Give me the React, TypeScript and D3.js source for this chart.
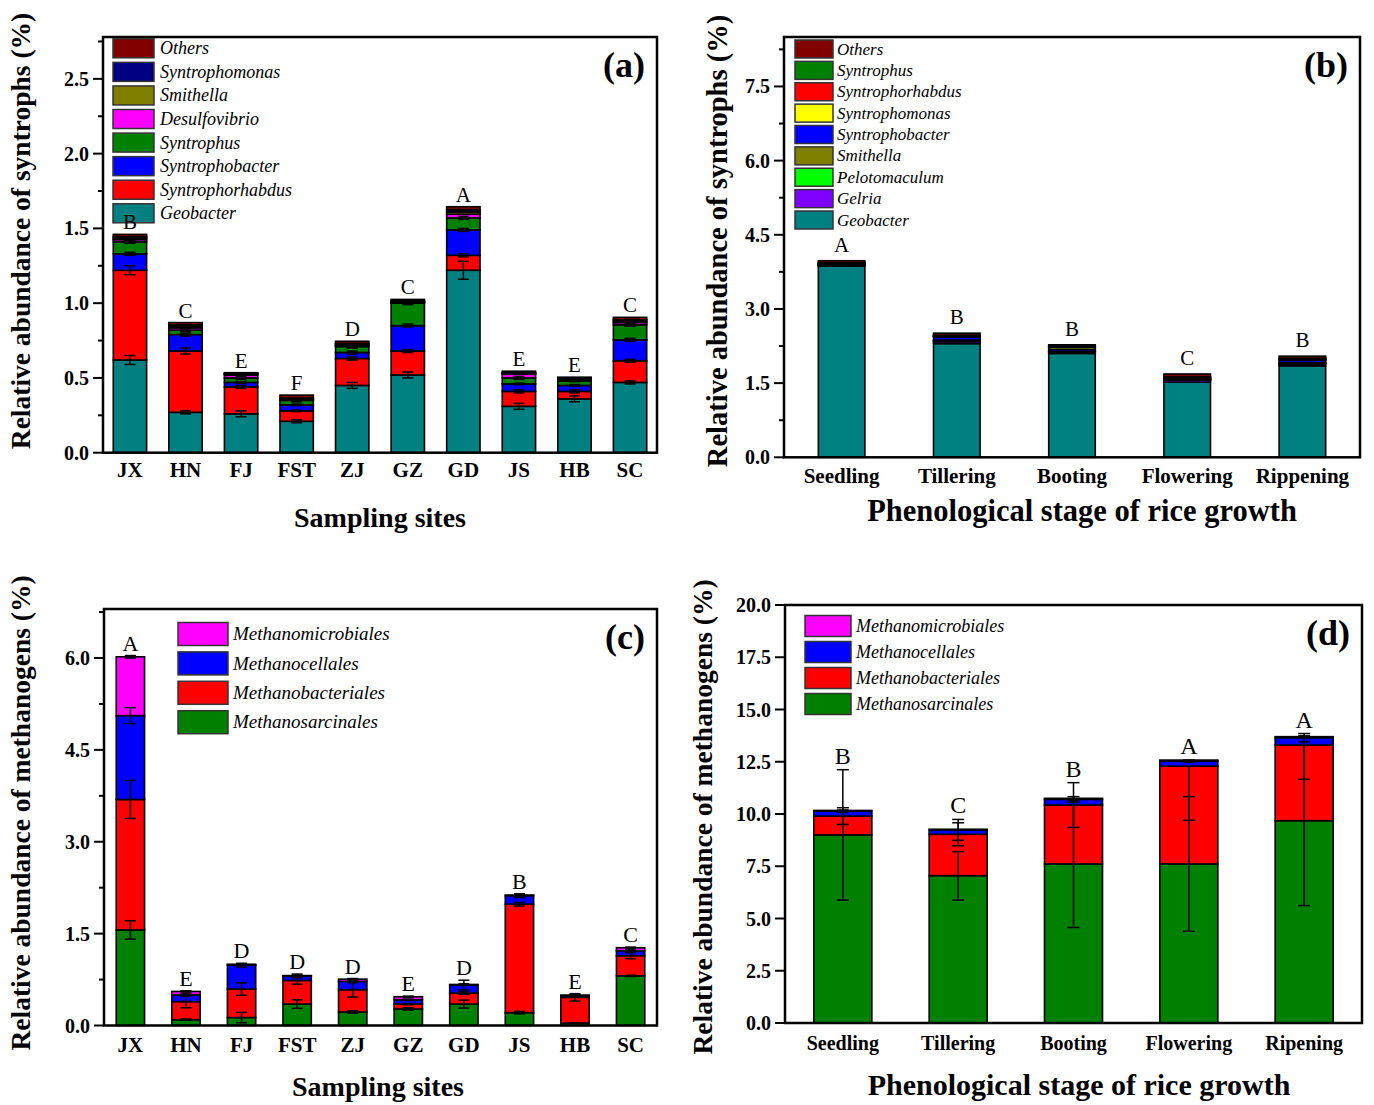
import React from "react";
import * as d3 from "d3";

const SERIF = "'Liberation Serif', 'Times New Roman', serif";

// ---------- (a) syntrophs by sampling site ----------
const SITES = ["JX", "HN", "FJ", "FST", "ZJ", "GZ", "GD", "JS", "HB", "SC"];
const A_GEOBACTER = [0.62, 0.27, 0.26, 0.21, 0.45, 0.52, 1.22, 0.31, 0.36, 0.47];
const A_SYNTROPHORHABDUS = [0.6, 0.41, 0.18, 0.07, 0.18, 0.16, 0.1, 0.1, 0.05, 0.145];
const A_SYNTROPHOBACTER = [0.11, 0.11, 0.03, 0.04, 0.04, 0.17, 0.17, 0.05, 0.04, 0.14];
const A_SYNTROPHUS = [0.08, 0.03, 0.03, 0.03, 0.04, 0.15, 0.08, 0.04, 0.03, 0.1];
const A_DESULFOVIBRIO = [0.015, 0.015, 0.02, 0.005, 0.005, 0.005, 0.025, 0.025, 0.005, 0.015];
const A_SMITHELLA = [0.01, 0.01, 0.005, 0.005, 0.005, 0.005, 0.015, 0.005, 0.005, 0.01];
const A_SYNTROPHOMONAS = [0.01, 0.01, 0.005, 0.005, 0.01, 0.005, 0.015, 0.005, 0.005, 0.01];
const A_OTHERS = [0.015, 0.015, 0.005, 0.02, 0.015, 0.01, 0.02, 0.01, 0.01, 0.015];
const A_ERR_GEOBACTER = [0.03, 0.01, 0.02, 0.01, 0.02, 0.02, 0.06, 0.02, 0.02, 0.01];
const A_ERR_SYNTROPHORHABDUS = [0.03, 0.02, 0.01, 0.005, 0.01, 0.01, 0.01, 0.01, 0.01, 0.01];
const A_ERR_SYNTROPHOBACTER = [0.01, 0.01, 0.005, 0.005, 0.01, 0.01, 0.01, 0.005, 0.005, 0.01];
const A_ERR_SYNTROPHUS = [0.01, 0.01, 0.01, 0.01, 0.01, 0.01, 0.01, 0.01, 0.005, 0.01];
const A_LETTERS = ["B", "C", "E", "F", "D", "C", "A", "E", "E", "C"];

// ---------- (b) syntrophs by growth stage ----------
const STAGES_B = ["Seedling", "Tillering", "Booting", "Flowering", "Rippening"];
const B_GEOBACTER = [3.87, 2.3, 2.1, 1.52, 1.85];
const B_GELRIA = [0.01, 0.04, 0.03, 0.04, 0.04];
const B_PELOTOMACULUM = [0.005, 0.01, 0.005, 0.005, 0.005];
const B_SMITHELLA = [0.01, 0.02, 0.01, 0.01, 0.02];
const B_SYNTROPHOBACTER = [0.01, 0.06, 0.04, 0.01, 0.05];
const B_SYNTROPHOMONAS = [0.01, 0.01, 0.04, 0.01, 0.01];
const B_SYNTROPHORHABDUS = [0.01, 0.01, 0.01, 0.01, 0.01];
const B_SYNTROPHUS = [0.01, 0.02, 0.01, 0.02, 0.02];
const B_OTHERS = [0.04, 0.04, 0.03, 0.06, 0.04];
const B_LETTERS = ["A", "B", "B", "C", "B"];

// ---------- (c) methanogens by sampling site ----------
const C_METHANOSARCINALES = [1.56, 0.095, 0.13, 0.35, 0.22, 0.27, 0.35, 0.21, 0.04, 0.81];
const C_METHANOBACTERIALES = [2.13, 0.295, 0.465, 0.385, 0.365, 0.08, 0.18, 1.77, 0.42, 0.33];
const C_METHANOCELLALES = [1.37, 0.11, 0.39, 0.075, 0.135, 0.07, 0.13, 0.14, 0.03, 0.08];
const C_METHANOMICROBIALES = [0.96, 0.056, 0.015, 0.005, 0.037, 0.05, 0.01, 0.01, 0.005, 0.05];
const C_ERR_METHANOSARCINALES = [0.15, 0.01, 0.085, 0.07, 0.02, 0.02, 0.065, 0.02, 0.005, 0.01];
const C_ERR_METHANOBACTERIALES = [0.31, 0.1, 0.1, 0.06, 0.12, 0.01, 0.02, 0.03, 0.06, 0.05];
const C_ERR_METHANOCELLALES = [0.13, 0.02, 0.03, 0.03, 0.02, 0.01, 0.08, 0.03, 0.01, 0.02];
const C_ERR_METHANOMICROBIALES = [0.02, 0.01, 0.01, 0.005, 0.01, 0.01, 0.01, 0.01, 0.005, 0.01];
const C_LETTERS = ["A", "E", "D", "D", "D", "E", "D", "B", "E", "C"];

// ---------- (d) methanogens by growth stage ----------
const STAGES_D = ["Seedling", "Tillering", "Booting", "Flowering", "Ripening"];
const D_METHANOSARCINALES = [9.0, 7.05, 7.61, 7.61, 9.68];
const D_METHANOBACTERIALES = [0.9, 1.98, 2.82, 4.68, 3.62];
const D_METHANOCELLALES = [0.24, 0.21, 0.27, 0.24, 0.35];
const D_METHANOMICROBIALES = [0.03, 0.03, 0.05, 0.05, 0.05];
const D_ERR_SARC_LO = [3.12, 1.17, 3.04, 3.22, 4.06];
const D_ERR_SARC_HI = [3.12, 1.15, 3.04, 3.22, 4.06];
const D_ERR_BACT_LO = [0.4, 0.55, 1.07, 2.59, 1.64];
const D_ERR_BACT_HI = [0.4, 0.55, 1.07, 0, 0];
const D_ERR_CELL = [0.05, 0.5, 0.13, 0.05, 0.2];
const D_LETTERS = ["B", "C", "B", "A", "A"];

type Series = { name: string; color: string; values: number[]; lo?: number[]; hi?: number[] };

type PanelProps = {
  tag: string;
  categories: string[];
  series: Series[]; // bottom to top
  letters: string[];
  box: { l: number; t: number; r: number; b: number };
  yMax: number;
  major: number;
  minor?: number;
  padInner: number;
  padOuter: number;
  letterSize: number;
  letterGap: number;
  capW: number;
  xTickSize: number;
  xTickDy: number;
  xTitle: string;
  xTitleX: number;
  xTitleY: number;
  xTitleSize: number;
  yTitle: string;
  yTitleX: number;
  yTitleY: number;
  yTitleSize: number;
  legend: { x: number; y0: number; step: number; w: number; h: number; textX: number; fs: number };
};

function StackedPanel(p: PanelProps) {
  const { box } = p;
  const x = d3
    .scaleBand<string>()
    .domain(p.categories)
    .range([box.l, box.r])
    .paddingInner(p.padInner)
    .paddingOuter(p.padOuter);
  const y = d3.scaleLinear().domain([0, p.yMax]).range([box.b, box.t]);

  const rows = p.categories.map((c, i) => {
    const row: Record<string, number | string> = { cat: c };
    p.series.forEach((s) => (row[s.name] = s.values[i]));
    return row;
  });
  const stacked = d3.stack<Record<string, number | string>>().keys(p.series.map((s) => s.name))(rows as any);

  const majors = d3.range(0, p.yMax + 1e-9, p.major);
  const minors = p.minor
    ? d3.range(0, p.yMax + 1e-9, p.minor).filter((v) => Math.abs(v / p.major - Math.round(v / p.major)) > 1e-6)
    : [];
  const fmt = d3.format(".1f");
  const bw = x.bandwidth();

  // highest point of each bar including error bars
  const peaks = p.categories.map((_, i) =>
    d3.max(p.series.map((s, k) => stacked[k][i][1] + (s.hi ? s.hi[i] : 0))) as number
  );

  return (
    <g>
      {stacked.map((layer, k) => (
        <g key={p.series[k].name}>
          {layer.map((d, i) => (
            <rect
              key={i}
              x={x(p.categories[i])}
              y={y(d[1])}
              width={bw}
              height={Math.max(0, y(d[0]) - y(d[1]))}
              fill={p.series[k].color}
              stroke="#000"
              strokeWidth={1.6}
            />
          ))}
        </g>
      ))}

      {/* error bars at the top of each layer */}
      {stacked.map((layer, k) => {
        const s = p.series[k];
        if (!s.lo && !s.hi) return null;
        return layer.map((d, i) => {
          const lo = s.lo ? s.lo[i] : 0;
          const hi = s.hi ? s.hi[i] : 0;
          if (!lo && !hi) return null;
          const cx = (x(p.categories[i]) as number) + bw / 2;
          const y0 = y(d[1] - lo);
          const y1 = y(d[1] + hi);
          return (
            <g key={`${k}-${i}`} stroke="#000" strokeWidth={1.5}>
              <line x1={cx} x2={cx} y1={y0} y2={y1} />
              {lo > 0 && <line x1={cx - p.capW / 2} x2={cx + p.capW / 2} y1={y0} y2={y0} />}
              {hi > 0 && <line x1={cx - p.capW / 2} x2={cx + p.capW / 2} y1={y1} y2={y1} />}
            </g>
          );
        });
      })}

      {/* frame */}
      <rect x={box.l} y={box.t} width={box.r - box.l} height={box.b - box.t} fill="none" stroke="#000" strokeWidth={2.5} />

      {/* y ticks */}
      {majors.map((v) => (
        <g key={`M${v}`}>
          <line x1={box.l - 10} x2={box.l} y1={y(v)} y2={y(v)} stroke="#000" strokeWidth={2} />
          <text
            x={box.l - 14}
            y={y(v) + 7}
            textAnchor="end"
            fontFamily={SERIF}
            fontWeight="bold"
            fontSize={20}
          >
            {fmt(v)}
          </text>
        </g>
      ))}
      {minors.map((v) => (
        <line key={`m${v}`} x1={box.l - 5} x2={box.l} y1={y(v)} y2={y(v)} stroke="#000" strokeWidth={2} />
      ))}

      {/* x tick labels */}
      {p.categories.map((c) => (
        <text
          key={c}
          x={(x(c) as number) + bw / 2}
          y={box.b + p.xTickDy}
          textAnchor="middle"
          fontFamily={SERIF}
          fontWeight="bold"
          fontSize={p.xTickSize}
        >
          {c}
        </text>
      ))}

      {/* axis titles */}
      <text x={p.xTitleX} y={p.xTitleY} textAnchor="middle" fontFamily={SERIF} fontWeight="bold" fontSize={p.xTitleSize}>
        {p.xTitle}
      </text>
      <text
        transform={`translate(${p.yTitleX},${p.yTitleY}) rotate(-90)`}
        textAnchor="middle"
        fontFamily={SERIF}
        fontWeight="bold"
        fontSize={p.yTitleSize}
      >
        {p.yTitle}
      </text>

      {/* panel tag */}
      <text x={box.r - 12} y={box.t + 40} textAnchor="end" fontFamily={SERIF} fontWeight="bold" fontSize={36}>
        {p.tag}
      </text>

      {/* legend, top entry = top layer */}
      {[...p.series].reverse().map((s, i) => {
        const cy = p.legend.y0 + i * p.legend.step;
        return (
          <g key={s.name}>
            <rect
              x={p.legend.x}
              y={cy - p.legend.h / 2}
              width={p.legend.w}
              height={p.legend.h}
              fill={s.color}
              stroke="#333"
              strokeWidth={1.5}
            />
            <text
              x={p.legend.textX}
              y={cy + p.legend.fs * 0.33}
              fontFamily={SERIF}
              fontStyle="italic"
              fontSize={p.legend.fs}
            >
              {s.name}
            </text>
          </g>
        );
      })}

      {/* significance letters (drawn last, over the legend) */}
      {p.letters.map((t, i) => (
        <text
          key={i}
          x={(x(p.categories[i]) as number) + bw / 2}
          y={y(peaks[i]) - p.letterGap}
          textAnchor="middle"
          fontFamily={SERIF}
          fontSize={p.letterSize}
        >
          {t}
        </text>
      ))}
    </g>
  );
}

export default function App() {
  const seriesA: Series[] = [
    { name: "Geobacter", color: "#008080", values: A_GEOBACTER, lo: A_ERR_GEOBACTER, hi: A_ERR_GEOBACTER },
    { name: "Syntrophorhabdus", color: "#ff0000", values: A_SYNTROPHORHABDUS, lo: A_ERR_SYNTROPHORHABDUS, hi: A_ERR_SYNTROPHORHABDUS },
    { name: "Syntrophobacter", color: "#0000ff", values: A_SYNTROPHOBACTER, lo: A_ERR_SYNTROPHOBACTER, hi: A_ERR_SYNTROPHOBACTER },
    { name: "Syntrophus", color: "#008000", values: A_SYNTROPHUS, lo: A_ERR_SYNTROPHUS, hi: A_ERR_SYNTROPHUS },
    { name: "Desulfovibrio", color: "#ff00ff", values: A_DESULFOVIBRIO },
    { name: "Smithella", color: "#808000", values: A_SMITHELLA },
    { name: "Syntrophomonas", color: "#000080", values: A_SYNTROPHOMONAS },
    { name: "Others", color: "#800000", values: A_OTHERS },
  ];
  const seriesB: Series[] = [
    { name: "Geobacter", color: "#008080", values: B_GEOBACTER },
    { name: "Gelria", color: "#8000ff", values: B_GELRIA },
    { name: "Pelotomaculum", color: "#00ff00", values: B_PELOTOMACULUM },
    { name: "Smithella", color: "#808000", values: B_SMITHELLA },
    { name: "Syntrophobacter", color: "#0000ff", values: B_SYNTROPHOBACTER },
    { name: "Syntrophomonas", color: "#ffff00", values: B_SYNTROPHOMONAS },
    { name: "Syntrophorhabdus", color: "#ff0000", values: B_SYNTROPHORHABDUS },
    { name: "Syntrophus", color: "#008000", values: B_SYNTROPHUS },
    { name: "Others", color: "#800000", values: B_OTHERS },
  ];
  const seriesC: Series[] = [
    { name: "Methanosarcinales", color: "#008000", values: C_METHANOSARCINALES, lo: C_ERR_METHANOSARCINALES, hi: C_ERR_METHANOSARCINALES },
    { name: "Methanobacteriales", color: "#ff0000", values: C_METHANOBACTERIALES, lo: C_ERR_METHANOBACTERIALES, hi: C_ERR_METHANOBACTERIALES },
    { name: "Methanocellales", color: "#0000ff", values: C_METHANOCELLALES, lo: C_ERR_METHANOCELLALES, hi: C_ERR_METHANOCELLALES },
    { name: "Methanomicrobiales", color: "#ff00ff", values: C_METHANOMICROBIALES, lo: C_ERR_METHANOMICROBIALES, hi: C_ERR_METHANOMICROBIALES },
  ];
  const seriesD: Series[] = [
    { name: "Methanosarcinales", color: "#008000", values: D_METHANOSARCINALES, lo: D_ERR_SARC_LO, hi: D_ERR_SARC_HI },
    { name: "Methanobacteriales", color: "#ff0000", values: D_METHANOBACTERIALES, lo: D_ERR_BACT_LO, hi: D_ERR_BACT_HI },
    { name: "Methanocellales", color: "#0000ff", values: D_METHANOCELLALES, lo: D_ERR_CELL, hi: D_ERR_CELL },
    { name: "Methanomicrobiales", color: "#ff00ff", values: D_METHANOMICROBIALES },
  ];

  return (
    <svg
      width={1374}
      height={1105}
      style={{ position: "absolute", left: 0, top: 0, background: "#fff" }}
    >
      <StackedPanel
        tag="(a)"
        categories={SITES}
        series={seriesA}
        letters={A_LETTERS}
        box={{ l: 103, t: 37, r: 657, b: 452.7 }}
        yMax={2.78}
        major={0.5}
        minor={0.25}
        padInner={0.4}
        padOuter={0.185}
        letterSize={21}
        letterGap={5}
        capW={11}
        xTickSize={21}
        xTickDy={24.5}
        xTitle="Sampling sites"
        xTitleX={380}
        xTitleY={527}
        xTitleSize={28}
        yTitle="Relative abundance of syntrophs (%)"
        yTitleX={30}
        yTitleY={231}
        yTitleSize={27.5}
        legend={{ x: 113, y0: 48.3, step: 23.57, w: 41, h: 19, textX: 160, fs: 18 }}
      />
      <StackedPanel
        tag="(b)"
        categories={STAGES_B}
        series={seriesB}
        letters={B_LETTERS}
        box={{ l: 784, t: 37, r: 1360, b: 457.3 }}
        yMax={8.5}
        major={1.5}
        minor={0.75}
        padInner={0.596}
        padOuter={0.298}
        letterSize={21}
        letterGap={9}
        capW={11}
        xTickSize={21}
        xTickDy={26}
        xTitle="Phenological stage of rice growth"
        xTitleX={1082}
        xTitleY={521}
        xTitleSize={30.5}
        yTitle="Relative abundance of syntrophs (%)"
        yTitleX={727}
        yTitleY={241}
        yTitleSize={28.5}
        legend={{ x: 795, y0: 49, step: 21.375, w: 38, h: 18, textX: 837, fs: 17 }}
      />
      <StackedPanel
        tag="(c)"
        categories={SITES}
        series={seriesC}
        letters={C_LETTERS}
        box={{ l: 104, t: 609, r: 657, b: 1025.5 }}
        yMax={6.8}
        major={1.5}
        minor={0.75}
        padInner={0.49}
        padOuter={0.22}
        letterSize={22}
        letterGap={5}
        capW={11}
        xTickSize={21}
        xTickDy={26}
        xTitle="Sampling sites"
        xTitleX={378}
        xTitleY={1096}
        xTitleSize={28}
        yTitle="Relative abundance of methanogens (%)"
        yTitleX={30}
        yTitleY={813}
        yTitleSize={27.5}
        legend={{ x: 178, y0: 634, step: 29.4, w: 50, h: 23, textX: 233, fs: 19 }}
      />
      <StackedPanel
        tag="(d)"
        categories={STAGES_D}
        series={seriesD}
        letters={D_LETTERS}
        box={{ l: 785, t: 605, r: 1362, b: 1023 }}
        yMax={20}
        major={2.5}
        padInner={0.497}
        padOuter={0.25}
        letterSize={24}
        letterGap={6}
        capW={12}
        xTickSize={20}
        xTickDy={27}
        xTitle="Phenological stage of rice growth"
        xTitleX={1079}
        xTitleY={1095}
        xTitleSize={30}
        yTitle="Relative abundance of methanogens (%)"
        yTitleX={712}
        yTitleY={817}
        yTitleSize={27.5}
        legend={{ x: 805, y0: 626, step: 26, w: 46, h: 21, textX: 856, fs: 18 }}
      />
    </svg>
  );
}
